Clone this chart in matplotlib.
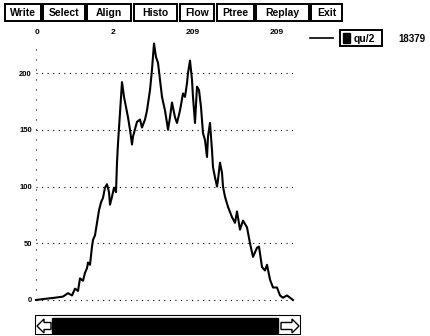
import matplotlib
matplotlib.use("Agg")
import matplotlib.pyplot as plt
from matplotlib.patches import Rectangle, Polygon

# ---- data ----
xs = [0, 9, 19, 27, 32, 36, 39, 42, 44, 47, 49, 51, 52, 54, 56, 57, 59, 61, 63, 65, 67,
      69, 71, 73, 74, 76, 78, 80, 81, 82, 84, 86, 88, 90, 92, 94, 96, 97, 101, 104, 106,
      109, 111, 114, 116, 118, 120, 122, 124, 126, 129, 131, 132, 134, 136, 139, 141, 144,
      147, 149, 151, 152, 154, 156, 157, 159, 161, 163, 165, 167, 169, 171, 172, 174, 176,
      177, 179, 181, 182, 184, 186, 187, 189, 192, 196, 199, 201, 204, 207, 211, 214, 217,
      221, 223, 226, 229, 231, 234, 237, 241, 244, 247, 251, 254, 257]
ys = [0, 1, 2, 3, 6, 4, 10, 8, 19, 17, 24, 28, 33, 31, 47, 53, 57, 68, 79, 86, 90,
      99, 102, 95, 84, 91, 99, 95, 121, 138, 165, 192, 179, 170, 161, 150, 137, 144, 157,
      159, 152, 159, 167, 185, 203, 226, 214, 209, 194, 179, 167, 156, 150, 161, 174, 161,
      156, 167, 182, 179, 191, 200, 211, 194, 179, 156, 188, 185, 170, 147, 141, 126, 144,
      156, 132, 117, 108, 100, 106, 121, 112, 100, 91, 82, 73, 68, 78, 62, 70, 64, 50, 38,
      46, 47, 29, 26, 31, 18, 11, 11, 4, 2, 4, 2, 0]
y_ticks = [0, 50, 100, 150, 200]
top_tick_pos = [1, 77, 157, 241]
top_tick_labels = ["0", "2", "209", "209"]
buttons = ["Write", "Select", "Align", "Histo", "Flow", "Ptree", "Replay", "Exit"]
button_x = [(5, 41), (43, 85), (87, 131), (134, 177), (180, 214), (217, 254), (256, 309), (311, 342)]
legend_label = "qu/2"
legend_value = "18379"

W, H = 431, 336
fig = plt.figure(figsize=(W / 100, H / 100), dpi=100)
fig.patch.set_facecolor("white")
plt.rcParams['font.family'] = ['Liberation Sans', 'DejaVu Sans']

# ---- main plot axes ----
ax = fig.add_axes([36 / W, (H - 306) / H, (293 - 36) / W, (306 - 40) / H])
ax.set_xlim(0, 257)
ax.set_ylim(-5.3, 229.1)
for s in ax.spines.values():
    s.set_visible(False)
ax.hlines(y_ticks, 0, 257, colors="black", linestyles=(0, (1, 4)), linewidth=0.8)
ax.vlines([0], 0, 229, colors="black", linestyles=(0, (1, 8)), linewidth=0.8)
ax.plot(xs, ys, color="black", linewidth=1.5, clip_on=False)
ax.set_yticks(y_ticks)
ax.set_yticklabels([str(v) for v in y_ticks], fontsize=5.5, fontweight="bold")
ax.tick_params(axis="y", length=0, pad=3)
ax.xaxis.tick_top()
ax.set_xticks(top_tick_pos)
ax.set_xticklabels(top_tick_labels, fontsize=6, fontweight="bold")
ax.tick_params(axis="x", length=0, pad=3)

# ---- overlay in pixel coordinates for UI elements ----
ui = fig.add_axes([0, 0, 1, 1])
ui.set_xlim(0, W)
ui.set_ylim(H, 0)
ui.axis("off")
ui.patch.set_alpha(0)

for name, (x0, x1) in zip(buttons, button_x):
    ui.add_patch(Rectangle((x0, 4), x1 - x0, 17, fill=False, edgecolor="black", linewidth=1.4))
    ui.text((x0 + x1) / 2, 12.5, name, ha="center", va="center", fontsize=7.5, fontweight="bold")

# legend
ui.plot([310, 333], [38, 38], color="black", linewidth=1.2)
ui.add_patch(Rectangle((340, 30), 42, 16, fill=False, edgecolor="black", linewidth=1.4))
ui.add_patch(Rectangle((343, 33), 7, 10, facecolor="black", edgecolor="black"))
ui.text(354, 38.5, legend_label, ha="left", va="center", fontsize=7.5, fontweight="bold")
ui.text(398, 38.5, legend_value, ha="left", va="center", fontsize=7, fontweight="bold")

# scrollbar
ui.add_patch(Rectangle((35, 315), 265, 19, fill=False, edgecolor="black", linewidth=0.8))
ui.add_patch(Rectangle((52, 318), 226, 15, facecolor="black", edgecolor="black"))
ui.add_patch(Polygon([(37, 326), (44, 319), (44, 322.5), (51, 322.5), (51, 329.5), (44, 329.5), (44, 333)],
                     closed=True, fill=False, edgecolor="black", linewidth=1.0))
ui.add_patch(Polygon([(299, 326), (292, 319), (292, 322.5), (281, 322.5), (281, 329.5), (292, 329.5), (292, 333)],
                     closed=True, fill=False, edgecolor="black", linewidth=1.0))

fig.savefig("out.png", dpi=100, facecolor="white")
